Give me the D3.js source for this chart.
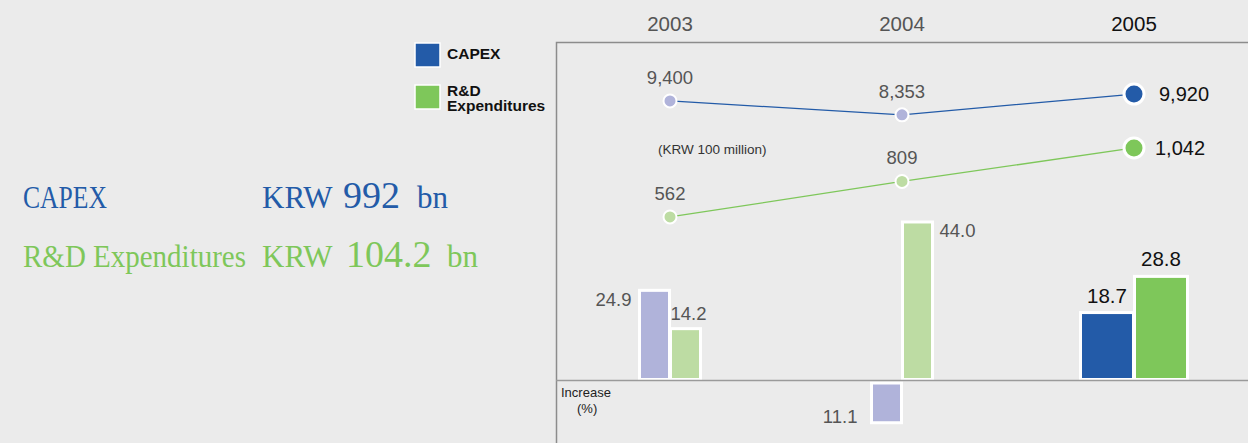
<!DOCTYPE html>
<html>
<head>
<meta charset="utf-8">
<script src="https://cdn.jsdelivr.net/npm/d3@7"></script>
<style>
    html, body { margin: 0; padding: 0; background: #ebebeb; }
    svg { display: block; }
    text { font-family: "Liberation Sans", Arial, sans-serif; }
    .serif { font-family: "Liberation Serif", "DejaVu Serif", serif; }
</style>
</head>
<body>
<div id="chart"></div>
<script>
// data
const years = ['2003', '2004', '2005'];
const capex = [9400, 8353, 9920];          // KRW 100 million
const rnd = [562, 809, 1042];              // KRW 100 million
const capexIncrease = [24.9, -11.1, 18.7]; // %
const rndIncrease = [14.2, 44.0, 28.8];    // %

const width = 1248;
const height = 443;
const blue = '#235ba8';
const green = '#7ec75a';
const paleBlue = '#b0b3da';
const paleGreen = '#bddca3';

const svg = d3.select('#chart')
    .append('svg')
    .attr('width', width)
    .attr('height', height);

svg.append('rect').attr('width', width).attr('height', height).attr('fill', '#ebebeb');

// scales
const x = d3.scalePoint().domain(years).range([670, 1134]);
const yCapex = d3.scaleLinear().domain([8000, 10000]).range([119.5, 93]);
const yRnd = d3.scaleLinear().domain([500, 1100]).range([225.9, 139.6]);
const yBar = d3.scaleLinear().domain([0, 10]).range([379.5, 343.7]);
const fmt = d3.format(',');
const fmtPct = v => d3.format('.1f')(Math.abs(v));

// frame
svg.append('path')
    .attr('d', `M556.5,${height}V42.5H${width}`)
    .attr('fill', 'none')
    .attr('stroke', '#8c8c8c')
    .attr('stroke-width', 1.5);

// year labels on top
svg.selectAll('.year')
    .data(years)
    .join('text')
    .attr('class', 'year')
    .attr('x', d => x(d))
    .attr('y', 31)
    .attr('text-anchor', 'middle')
    .style('font-size', '20.5px')
    .attr('fill', (d, i) => i === years.length - 1 ? '#111' : '#555')
    .text(d => d);

// legend
const legend = [
    { label: ['CAPEX'], color: blue },
    { label: ['R&D', 'Expenditures'], color: green }
];
legend.forEach((l, i) => {
    const ly = 43 + i * 42;
    svg.append('rect')
        .attr('x', 415).attr('y', ly)
        .attr('width', 25).attr('height', 24)
        .attr('fill', l.color)
        .attr('stroke', '#fff').attr('stroke-width', 1.5);
    const t = svg.append('text')
        .attr('x', 447)
        .attr('y', i === 0 ? 59 : 96)
        .style('font-size', '15.5px')
        .style('font-weight', 'bold')
        .attr('fill', '#111');
    l.label.forEach((s, j) => {
        t.append('tspan').attr('x', 447).attr('dy', j === 0 ? 0 : 15).text(s);
    });
});

// left summary text
const summary = [
    { name: 'CAPEX', nameLen: 84, num: '992', color: blue, y: 208, numX: 343, bnX: 417 },
    { name: 'R&D Expenditures', nameLen: 223, num: '104.2', color: green, y: 267, numX: 346, bnX: 447 }
];
summary.forEach(s => {
    svg.append('text')
        .attr('class', 'serif')
        .attr('x', 23).attr('y', s.y)
        .attr('fill', s.color)
        .style('font-size', '31px')
        .attr('textLength', s.nameLen)
        .attr('lengthAdjust', 'spacingAndGlyphs')
        .text(s.name);
    const t = svg.append('text')
        .attr('class', 'serif')
        .attr('y', s.y)
        .attr('fill', s.color);
    t.append('tspan').attr('x', 262).style('font-size', '31px').text('KRW');
    t.append('tspan').attr('x', s.numX).style('font-size', '38px').text(s.num);
    t.append('tspan').attr('x', s.bnX).style('font-size', '31px').text('bn');
});

// unit note
svg.append('text')
    .attr('x', 658).attr('y', 154)
    .style('font-size', '13.5px')
    .attr('fill', '#333')
    .text('(KRW 100 million)');

// lines
const series = [
    { values: capex, y: yCapex, color: blue, pale: paleBlue, labelDx: 25 },
    { values: rnd, y: yRnd, color: green, pale: paleGreen, labelDx: 21 }
];
series.forEach(s => {
    const line = d3.line()
        .x((d, i) => x(years[i]))
        .y(d => s.y(d));
    svg.append('path')
        .datum(s.values)
        .attr('d', line)
        .attr('fill', 'none')
        .attr('stroke', s.color)
        .attr('stroke-width', 1.3);

    const last = s.values.length - 1;
    svg.selectAll(null)
        .data(s.values)
        .join('circle')
        .attr('cx', (d, i) => x(years[i]))
        .attr('cy', d => s.y(d))
        .attr('r', (d, i) => i === last ? 10 : 6.5)
        .attr('fill', (d, i) => i === last ? s.color : s.pale)
        .attr('stroke', '#fff')
        .attr('stroke-width', (d, i) => i === last ? 3 : 2);

    svg.selectAll(null)
        .data(s.values)
        .join('text')
        .attr('x', (d, i) => i === last ? x(years[i]) + s.labelDx : x(years[i]))
        .attr('y', (d, i) => i === last ? s.y(d) + 7 : s.y(d) - 17)
        .attr('text-anchor', (d, i) => i === last ? 'start' : 'middle')
        .style('font-size', (d, i) => i === last ? '20px' : '18.5px')
        .attr('fill', (d, i) => i === last ? '#111' : '#555')
        .text(d => fmt(d));
});

// increase bars
const y0 = yBar(0);
const bars = [];
years.forEach((yr, i) => {
    const last = i === years.length - 1;
    const fill = last ? 50 : 27;
    const off = (fill + 4) / 2;
    bars.push({ yr, i, v: capexIncrease[i], cx: x(yr) - off, w: fill + 3, color: last ? blue : paleBlue, last, kind: 'capex' });
    bars.push({ yr, i, v: rndIncrease[i], cx: x(yr) + off, w: fill + 3, color: last ? green : paleGreen, last, kind: 'rnd' });
});

svg.selectAll('.bar')
    .data(bars)
    .join('rect')
    .attr('class', 'bar')
    .attr('x', d => d.cx - d.w / 2)
    .attr('y', d => d.v >= 0 ? yBar(d.v) : y0 + 3.5)
    .attr('width', d => d.w)
    .attr('height', d => Math.abs(yBar(d.v) - y0))
    .attr('fill', d => d.color)
    .attr('stroke', '#fff')
    .attr('stroke-width', 3);

// bar value labels, placed like the original
function barLabel(d) {
    const top = d.v >= 0 ? yBar(d.v) : y0 + 3.5;
    const bottom = d.v >= 0 ? y0 : y0 + 3.5 + Math.abs(yBar(d.v) - y0);
    const left = d.cx - d.w / 2;
    const right = d.cx + d.w / 2;
    if (d.last) return { x: d.cx, y: top - 10, anchor: 'middle' };
    if (d.v < 0) return { x: left - 14, y: bottom, anchor: 'end' };
    if (d.kind === 'capex') return { x: left - 8, y: top + 16, anchor: 'end' };
    if (d.v > 30) return { x: right + 7, y: top + 15, anchor: 'start' };
    return { x: left, y: top - 9, anchor: 'start' };
}

svg.selectAll('.barlabel')
    .data(bars)
    .join('text')
    .attr('class', 'barlabel')
    .each(function(d) {
        const p = barLabel(d);
        d3.select(this)
            .attr('x', p.x)
            .attr('y', p.y)
            .attr('text-anchor', p.anchor);
    })
    .style('font-size', d => d.last ? '20.5px' : '18.5px')
    .attr('fill', d => d.last ? '#111' : '#555')
    .text(d => fmtPct(d.v));

// baseline
svg.append('line')
    .attr('x1', 556).attr('x2', width)
    .attr('y1', y0 + 1).attr('y2', y0 + 1)
    .attr('stroke', '#9a9a9a')
    .attr('stroke-width', 1.5);

// increase note
const inc = svg.append('text')
    .style('font-size', '13px')
    .attr('fill', '#222');
inc.append('tspan').attr('x', 561).attr('y', 397).text('Increase');
inc.append('tspan').attr('x', 577).attr('y', 413).text('(%)');
</script>
</body>
</html>
